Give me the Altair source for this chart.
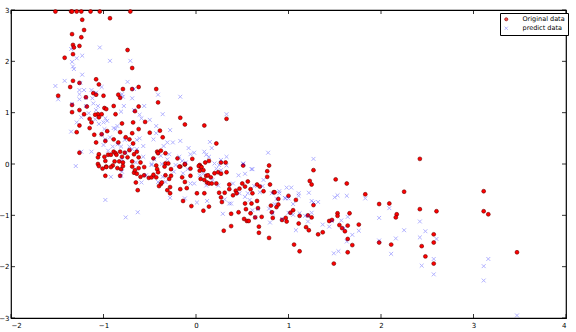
import altair as alt
import pandas as pd

series_names = ["Original data", "predict data"]
x_ticks = [-2, -1, 0, 1, 2, 3, 4]
y_ticks = [-3, -2, -1, 0, 1, 2, 3]

orig_points = [
    (-1.52, 2.97), (-1.35, 2.97), (-1.34, 2.97), (-1.29, 2.97), (-1.24, 2.97), (-1.14, 2.97), (-1.04, 2.97), (-0.71, 2.97),
    (-0.93, 2.84), (-1.23, 2.81), (-1.21, 2.61), (-1.24, 2.47), (-1.34, 2.53), (-1.33, 2.32), (-1.32, 2.27), (-1.26, 2.30),
    (-0.74, 2.22), (-1.33, 2.14), (-1.42, 2.07), (-0.69, 1.87), (-1.08, 1.65), (-1.33, 1.62), (-1.26, 1.58), (-1.05, 1.55),
    (-1.36, 1.50), (-0.62, 1.50), (-0.43, 1.46), (-0.69, 1.46), (-0.79, 1.46), (-1.11, 1.38), (-1.08, 1.35), (-1.19, 1.30),
    (-0.84, 1.35), (-0.82, 1.29), (-1.00, 1.33), (-1.49, 1.33), (-0.41, 1.20), (-1.18, 1.12), (-0.62, 1.12), (-0.89, 1.13),
    (-0.99, 1.09), (-0.97, 1.07), (-1.34, 1.15), (-1.34, 1.01), (-1.26, 1.05), (-0.66, 1.03), (-1.06, 0.97), (-1.02, 0.97),
    (-0.87, 0.97), (-1.21, 0.97), (-1.09, 0.96), (-0.17, 0.90), (-1.05, 0.91), (-1.15, 0.88), (-0.68, 0.81), (-0.55, 0.82),
    (-1.13, 0.81), (-0.80, 0.79), (-0.12, 0.77), (0.09, 0.75), (0.33, 0.88), (-1.26, 0.75), (-1.15, 0.70), (-0.62, 0.68),
    (-1.29, 0.62), (-0.96, 0.64), (-0.39, 0.65), (-0.50, 0.61), (-0.82, 0.62), (-0.69, 0.60), (-1.10, 0.57), (-1.02, 0.58),
    (-0.36, 0.52), (-0.76, 0.52), (-0.72, 0.48), (-0.89, 0.48), (0.22, 0.40), (-1.08, 0.42), (-0.98, 0.45), (-0.68, 0.40),
    (-0.84, 0.42), (-0.42, 0.24), (-0.41, 0.21), (-0.33, 0.21), (-0.38, 0.26), (-1.26, 0.22), (-1.05, 0.19), (-0.89, 0.24),
    (-0.87, 0.21), (-0.82, 0.24), (-0.77, 0.22), (-0.72, 0.27), (-0.64, 0.24), (-0.67, 0.19), (-0.95, 0.18), (-0.92, 0.18),
    (-0.99, 0.14), (-1.06, 0.13), (-0.86, 0.18), (-0.80, 0.14), (-0.74, 0.13), (-0.62, 0.13), (-0.46, 0.11), (-0.20, 0.11),
    (-0.04, 0.10), (0.14, 0.06), (0.27, 0.03), (0.32, 0.03), (0.10, 0.03), (0.51, -0.03), (0.79, -0.03), (-0.98, 0.06),
    (-0.88, 0.05), (-0.83, 0.05), (-0.79, 0.03), (-0.69, 0.05), (-0.60, 0.03), (-1.06, 0.00), (-0.97, -0.05), (-0.90, -0.03),
    (-0.43, -0.03), (-0.33, 0.01), (-0.30, 0.01), (-0.17, -0.05), (-0.12, -0.01), (0.04, -0.02), (0.05, -0.05),
    (-1.05, -0.04), (-1.01, -0.09), (-0.98, -0.23), (-0.97, -0.06), (-0.92, -0.06), (-0.85, -0.08), (-0.82, -0.23),
    (-0.81, -0.10), (-0.79, -0.04), (-0.69, -0.05), (-0.67, -0.17), (-0.66, -0.12), (-0.64, -0.19), (-0.62, -0.08),
    (-0.65, -0.36), (-0.63, -0.51), (-0.60, -0.25), (-0.56, -0.06), (-0.56, -0.22), (-0.51, -0.27), (-0.48, -0.26),
    (-0.46, -0.21), (-0.43, -0.26), (-0.42, -0.10), (-0.41, -0.16), (-0.40, -0.43), (-0.38, -0.39), (-0.37, -0.36),
    (-0.34, -0.05), (-0.33, -0.22), (-0.31, -0.51), (-0.29, -0.29), (-0.28, -0.45), (-0.28, -0.57), (-0.27, -0.23),
    (-0.27, -0.10), (-0.18, -0.05), (-0.17, -0.49), (-0.15, -0.26), (-0.14, -0.72), (-0.12, 0.00), (-0.12, -0.35),
    (-0.10, -0.47), (-0.06, -0.09), (-0.06, -0.23), (-0.05, -0.82), (0.01, -0.57), (0.03, -0.04), (0.04, -0.13),
    (0.05, -0.29), (0.06, -0.06), (0.08, -0.12), (0.09, -0.57), (0.09, -0.31), (0.08, -0.91), (0.11, -0.23),
    (0.12, -0.36), (0.13, -0.22), (0.14, -0.83), (0.14, -0.38), (0.16, -0.26), (0.17, -0.38), (0.20, -0.18),
    (0.22, -0.38), (0.24, -0.16), (0.25, -0.56), (0.27, -0.19), (0.27, -0.65), (0.28, -0.74), (0.30, -1.30),
    (0.31, -0.56), (0.33, -0.16), (0.36, -0.40), (0.36, -0.49), (0.38, -1.21), (0.38, -0.97), (0.40, -0.61),
    (0.43, -0.52), (0.44, -0.57), (0.46, -0.94), (0.47, -0.48), (0.50, -0.38), (0.52, -1.07), (0.53, -0.44),
    (0.53, -0.77), (0.54, -0.88), (0.55, -1.11), (0.56, -0.34), (0.57, -1.11), (0.59, -0.49), (0.59, -0.96),
    (0.60, -0.77), (0.61, -0.57), (0.64, -1.04), (0.66, -0.40), (0.66, -0.72), (0.67, -0.86), (0.68, -1.22),
    (0.68, -1.34), (0.69, -0.44), (0.71, -1.03), (0.73, -0.53), (0.77, -0.14), (0.77, -0.25), (0.79, -1.44),
    (0.80, -0.40), (0.81, -0.81), (0.82, -0.94), (0.83, -1.05), (0.84, -0.55), (0.85, -0.55), (0.87, -0.84),
    (0.89, -0.68), (0.89, -0.79), (0.93, -1.09), (0.97, -1.05), (0.98, -1.12), (1.00, -0.62),
    (1.27, -0.12), (1.23, -0.33), (1.25, -0.40), (1.51, -0.30), (1.63, -0.38), (1.83, -0.59), (2.25, -0.54),
    (3.11, -0.53), (1.08, -0.70), (1.27, -0.80), (1.98, -0.78), (2.09, -0.77), (2.42, -0.88), (2.60, -0.92),
    (3.11, -0.92), (3.16, -0.98), (1.05, -0.90), (1.02, -0.95), (1.12, -1.01), (1.53, -0.96), (1.53, -1.01),
    (1.66, -0.96), (1.21, -1.00), (1.25, -1.04), (2.17, -0.98), (2.16, -1.04), (1.44, -1.11), (1.47, -1.09),
    (1.55, -1.19), (1.11, -1.16), (1.76, -1.18), (1.64, -1.20), (1.58, -1.25), (1.61, -1.31), (1.19, -1.23),
    (1.22, -1.29), (1.37, -1.33), (1.32, -1.37), (2.57, -1.37), (1.64, -1.46), (2.57, -1.53), (1.98, -1.53),
    (2.11, -1.57), (1.06, -1.57), (1.69, -1.58), (2.44, -1.60), (1.64, -1.72), (1.12, -1.70), (3.47, -1.72),
    (2.48, -1.80), (1.49, -1.94), (2.57, -1.94), (2.42, 0.10),
]

pred_points = [
    (-1.52, 1.52), (-1.49, 1.26), (-1.42, 1.62), (-1.35, 2.24), (-1.34, 1.99), (-1.33, 1.90), (-1.32, 1.85),
    (-1.29, 2.06), (-1.23, 2.11), (-1.23, 1.74), (-1.25, 1.58), (-1.26, 1.44), (-1.26, 1.36), (-1.34, 1.17),
    (-1.26, 1.26), (-1.21, 1.44), (-1.19, 1.29), (-1.13, 1.44), (-1.08, 1.39), (-1.12, 1.28), (-1.04, 2.27),
    (-0.93, 2.01), (-1.02, 1.50), (-1.11, 1.18), (-1.06, 1.13), (-1.08, 1.05), (-1.16, 0.99), (-1.19, 1.13),
    (-1.09, 0.87), (-1.24, 0.91), (-1.29, 0.81), (-1.35, 0.63), (-1.30, -0.04), (-1.24, 0.24), (-1.13, 0.24),
    (-1.05, 0.78), (-1.00, 0.81), (-0.98, 0.89), (-0.96, 0.84), (-1.02, 0.57), (-0.99, 0.68), (-1.00, 0.37),
    (-0.98, 0.48), (-0.93, 0.52), (-0.89, 0.70), (-0.87, 0.68), (-0.85, 0.74), (-0.81, 1.02), (-0.78, 1.13),
    (-0.79, 1.31), (-0.80, 1.36), (-0.74, 1.60), (-0.71, 2.01), (-0.67, 1.46), (-0.69, 1.28), (-0.67, 1.05),
    (-0.56, 1.13), (-0.61, 0.96), (-0.59, 0.89), (-0.50, 0.86), (-0.43, 0.74), (-0.41, 1.35), (-0.36, 0.97),
    (-0.28, 0.66), (-0.17, 1.31), (-0.17, 0.45), (-0.25, 0.42), (-0.31, 0.42), (-0.35, 0.35), (-0.43, 0.60),
    (-0.46, 0.48), (-0.57, 0.35), (-0.61, 0.50), (-0.64, 0.47), (-0.77, 0.47), (-0.85, 0.38), (-0.72, 0.34),
    (-0.69, 0.29), (-0.64, 0.29), (-0.76, 0.22), (-0.81, 0.34), (-0.90, 0.34), (-0.95, 0.26), (-0.80, 0.09),
    (-0.65, 0.03), (-0.57, 0.14), (-0.48, 0.00), (-0.45, 0.09), (-0.38, 0.16), (-0.37, 0.00), (-0.31, 0.09),
    (-0.29, 0.19), (-0.18, 0.14), (-0.15, 0.06), (-0.11, 0.03), (-0.06, 0.19), (-0.02, 0.22), (0.09, 0.24),
    (0.11, 0.18), (0.15, 0.43), (0.17, 0.31), (0.14, 0.14), (0.20, 0.01), (0.25, -0.02), (0.27, 0.08),
    (0.33, 0.14), (0.33, 0.97), (0.51, 0.01), (0.61, -0.10), (0.78, 0.22), (-0.08, 0.31), (1.27, 0.10),
    (-0.98, -0.70), (-0.92, -0.25), (-0.76, -1.04), (-0.63, -0.94), (-0.80, -0.15), (-0.81, -0.23),
    (-0.59, -0.36), (-0.54, -0.22), (-0.48, -0.02), (-0.41, -0.35), (-0.36, -0.25), (-0.33, -0.35),
    (-0.28, -0.66), (-0.24, -0.15), (-0.22, -0.02), (-0.14, -0.18), (-0.12, -0.67), (-0.09, -0.10),
    (-0.06, -0.38), (-0.02, -0.38), (0.01, -0.75), (0.04, -0.22), (0.08, -0.19), (0.11, -0.42), (0.12, -0.72),
    (0.18, -0.31), (0.22, -0.09), (0.24, -0.42), (0.27, -0.12), (0.29, -0.97), (0.31, -0.69), (0.33, -0.03),
    (0.36, -0.77), (0.38, -0.77), (0.40, -0.38), (0.46, -0.22), (0.47, -0.57), (0.51, 0.00), (0.53, -0.19),
    (0.53, -0.64), (0.56, -0.57), (0.58, -0.70), (0.60, -0.10), (0.61, -0.90), (0.63, -0.43), (0.64, -1.04),
    (0.67, -0.88), (0.69, -0.55), (0.72, -0.43), (0.73, -0.31), (0.79, -0.87), (0.80, -1.14), (0.82, -0.57),
    (0.83, -0.96), (0.85, -0.78), (0.87, -0.68), (0.90, -0.53), (0.96, -0.66), (1.00, -0.95), (0.98, -0.46),
    (1.03, -0.46), (0.90, -0.57), (0.97, -0.67), (1.00, -0.67), (1.05, -0.78), (1.11, -0.57), (1.11, -0.62),
    (1.22, -0.56), (1.25, -0.72), (1.32, -0.74), (1.27, -0.75), (1.12, -0.96), (1.05, -0.99), (1.25, -0.95),
    (1.21, -1.01), (1.18, -1.01), (0.93, -1.07), (1.21, -1.12), (1.37, -1.18), (1.44, -1.22), (1.47, -1.11),
    (1.57, -1.10), (1.64, -1.03), (1.63, -0.62), (1.50, -0.65), (1.53, -0.61), (1.83, -0.67), (2.09, -0.86),
    (1.98, -1.05), (2.25, -1.29), (2.42, -1.12), (2.48, -1.31), (2.42, -1.43), (2.60, -1.46), (2.16, -1.45),
    (1.98, -1.49), (1.76, -1.30), (1.69, -1.38), (1.63, -1.51), (1.60, -1.25), (1.08, -1.29), (1.54, -1.70),
    (1.49, -1.74), (2.11, -1.75), (2.44, -1.98), (2.57, -1.85), (2.57, -2.15), (3.16, -1.85), (3.11, -1.99),
    (3.11, -2.27), (3.47, -2.95),
]

W, H = 555, 308
FONT = "DejaVu Sans"

rows = [{"x": a, "y": b, "series": series_names[0]} for a, b in orig_points]
rows += [{"x": a, "y": b, "series": series_names[1]} for a, b in pred_points]
df = pd.DataFrame(rows)

xs = alt.Scale(domain=[-2, 4], nice=False, zero=False)
ys = alt.Scale(domain=[-3, 3], nice=False, zero=False)
xpath = "M-1,-1L1,1M-1,1L1,-1"

x_axis = alt.Axis(values=x_ticks, title=None, grid=False, domain=False, ticks=False,
                  labelFontSize=7, labelFont=FONT, labelPadding=3, format="d",
                  labelColor="black", labelOverlap=False)
y_axis = alt.Axis(values=y_ticks, title=None, grid=False, domain=False, ticks=False,
                  labelFontSize=7, labelFont=FONT, labelPadding=2, format="d",
                  labelColor="black", labelOverlap=False)

leg = alt.Legend(
    title=None, orient="none", legendX=489, legendY=3,
    strokeColor="black", fillColor="white", padding=3, cornerRadius=0,
    labelFontSize=6.5, labelFont=FONT, symbolSize=10, rowPadding=1, labelOffset=13,
    labelColor="black",
)

points = alt.Chart(df).mark_point(size=15).encode(
    x=alt.X("x:Q", scale=xs, axis=x_axis, title=None),
    y=alt.Y("y:Q", scale=ys, axis=y_axis, title=None),
    shape=alt.Shape("series:N", scale=alt.Scale(domain=series_names, range=["circle", xpath]), legend=leg),
    fill=alt.Fill("series:N", scale=alt.Scale(domain=series_names, range=["#ff0000", "transparent"]), legend=leg),
    stroke=alt.Stroke("series:N", scale=alt.Scale(domain=series_names, range=["#700000", "#0000ff"]), legend=leg),
    opacity=alt.Opacity("series:N", scale=alt.Scale(domain=series_names, range=[1.0, 0.3]), legend=leg),
    strokeWidth=alt.StrokeWidth("series:N", scale=alt.Scale(domain=series_names, range=[0.6, 1.0]), legend=leg),
)

xt = pd.DataFrame({"x": x_ticks})
yt = pd.DataFrame({"y": y_ticks})
tl = 4
bottom = alt.Chart(xt).mark_rule(color="black", strokeWidth=0.8).encode(
    x=alt.X("x:Q", scale=xs, axis=x_axis, title=None), y=alt.value(H), y2=alt.value(H - tl))
top = alt.Chart(xt).mark_rule(color="black", strokeWidth=0.8).encode(
    x=alt.X("x:Q", scale=xs, axis=x_axis, title=None), y=alt.value(0), y2=alt.value(tl))
left = alt.Chart(yt).mark_rule(color="black", strokeWidth=0.8).encode(
    y=alt.Y("y:Q", scale=ys, axis=y_axis, title=None), x=alt.value(0), x2=alt.value(tl))
right = alt.Chart(yt).mark_rule(color="black", strokeWidth=0.8).encode(
    y=alt.Y("y:Q", scale=ys, axis=y_axis, title=None), x=alt.value(W), x2=alt.value(W - tl))

chart = alt.layer(points, bottom, top, left, right).properties(
    width=W, height=H,
    autosize=alt.AutoSizeParams(type="none"),
    padding={"left": 11, "top": 10, "right": 10, "bottom": 14},
    background="white",
).configure_view(stroke="black", strokeWidth=1.2)

chart.save("out.html", embed_options={"renderer": "svg", "actions": False})
